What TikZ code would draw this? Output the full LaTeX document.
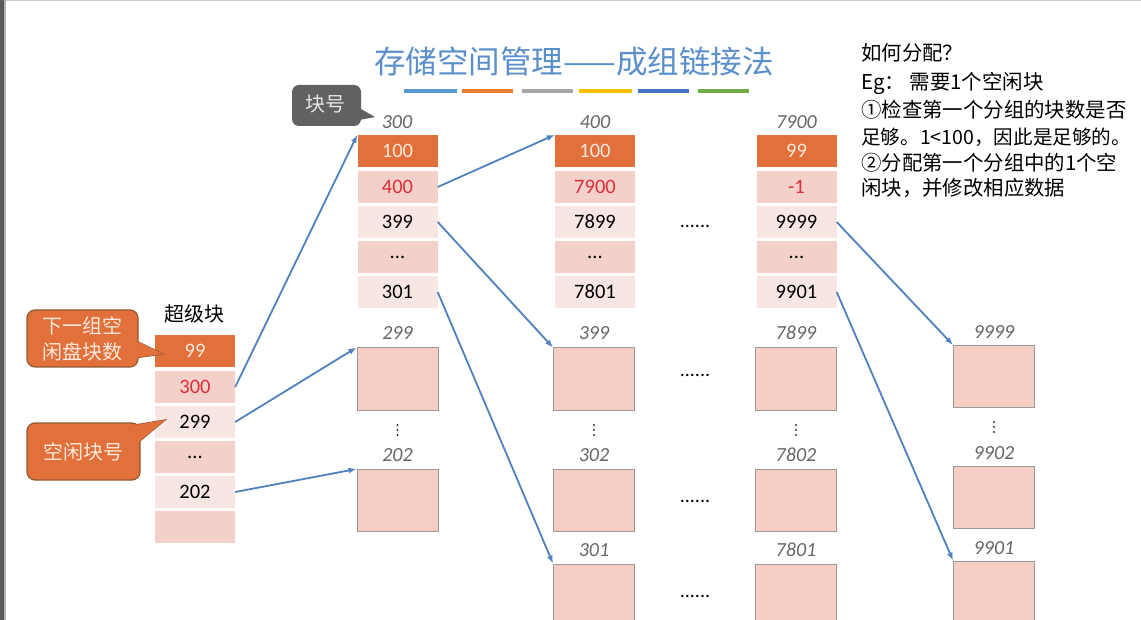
\documentclass[tikz,border=0pt]{standalone}
\usepackage{fontspec}
\setmainfont{Carlito}
\newfontfamily\cjk{Noto Sans CJK SC}
\usetikzlibrary{arrows.meta}
\definecolor{orng}{HTML}{E2703A}
\definecolor{pinkd}{HTML}{F3D0C9}
\definecolor{pinkl}{HTML}{F8E6E3}
\definecolor{blkpink}{HTML}{F6CEC4}
\definecolor{boxgray}{HTML}{9A9A9A}
\definecolor{labgray}{HTML}{666666}
\definecolor{redtxt}{HTML}{DD2E3A}
\definecolor{arrblue}{HTML}{4F81BD}
\definecolor{titleblue}{HTML}{5B8FCB}
\definecolor{cream}{HTML}{FCE8DC}
\definecolor{coborder}{HTML}{8E5A30}
\definecolor{cogray}{HTML}{616161}
\definecolor{barA}{HTML}{5B9BD5}
\definecolor{barB}{HTML}{ED7D31}
\definecolor{barC}{HTML}{A5A5A5}
\definecolor{barD}{HTML}{FFC000}
\definecolor{barE}{HTML}{4472C4}
\definecolor{barF}{HTML}{70AD47}
\begin{document}
\begin{tikzpicture}[x=1pt,y=-1pt,
  cell/.style={minimum width=80pt, minimum height=32pt, inner sep=0pt, font=\fontsize{20.5}{24}\selectfont, text=black},
  hd/.style={cell, fill=orng, text=cream},
  pd/.style={cell, fill=pinkd},
  pl/.style={cell, fill=pinkl},
  blk/.style={draw=boxgray, fill=blkpink, line width=1pt, minimum width=81pt, minimum height=62pt, inner sep=0pt},
  lab/.style={font=\fontsize{20}{24}\selectfont\itshape, text=labgray, inner sep=0pt},
  arr/.style={draw=arrblue, line width=1.8pt, -{Latex[length=8pt,width=6pt]}},
  dts/.style={font=\fontsize{20}{24}\selectfont, inner sep=0pt},
  rtxt/.style={font=\cjk\fontsize{20.4}{24}\selectfont, anchor=west, inner sep=0pt},
  cotxt/.style={font=\cjk\fontsize{20}{26}\selectfont, text=cream, align=center, inner sep=0pt},
  bar/.style={line width=4.5pt}
]
\useasboundingbox (0,0) rectangle (1141,620);
\fill[white] (0,0) rectangle (1141,620);
\fill[black!65] (0,0) rectangle (4,620);
\fill[black!30] (4,0) rectangle (6,620);
\fill[black!20] (6,0) rectangle (1141,1.5);

% title
\node[font=\cjk\fontsize{31.5}{34}\selectfont, text=titleblue] (title) at (574,62) {存储空间管理——成组链接法};
\draw[bar,barA] (404,91) -- (457,91);
\draw[bar,barB] (462,91) -- (513,91);
\draw[bar,barC] (522,91) -- (573,91);
\draw[bar,barD] (579,91) -- (632,91);
\draw[bar,barE] (638,91) -- (689,91);
\draw[bar,barF] (698,91) -- (749,91);

% right text
\node[rtxt] (t1) at (861,53) {如何分配？};
\node[rtxt] (t2) at (861,83) {Eg： 需要1个空闲块};
\node[rtxt] (t3) at (861,110) {①检查第一个分组的块数是否};
\node[rtxt, font=\cjk\fontsize{19.6}{24}\selectfont] (t4) at (861,137) {足够。1<100，因此是足够的。};
\node[rtxt] (t5) at (861,163) {②分配第一个分组中的1个空};
\node[rtxt] (t6) at (861,188) {闲块，并修改相应数据};

% superblock
\node[font=\cjk\fontsize{20}{24}\selectfont, inner sep=0pt] (sblab) at (194,314) {超级块};
\node[hd] (sb1) at (195,351) {99};
\node[pd, text=redtxt] (sb2) at (195,387) {300};
\node[pl] (sb3) at (195,422) {299};
\node[pd] (sb4) at (195,457) {...};
\node[pl] (sb5) at (195,492) {202};
\node[pd] (sb6) at (195,527) {};

% column 300
\node[lab] (ha) at (397,122) {300};
\node[hd] (a1) at (397.5,151) {100};
\node[pd, text=redtxt] (a2) at (397.5,187) {400};
\node[pl] (a3) at (397.5,222) {399};
\node[pd] (a4) at (397.5,257) {...};
\node[pl] (a5) at (397.5,292) {301};

% column 400
\node[lab] (hb) at (595,122) {400};
\node[hd] (b1) at (595,151) {100};
\node[pd, text=redtxt] (b2) at (595,187) {7900};
\node[pl] (b3) at (595,222) {7899};
\node[pd] (b4) at (595,257) {...};
\node[pl] (b5) at (595,292) {7801};

% column 7900
\node[lab] (hc) at (796.5,122) {7900};
\node[hd] (c1) at (796.5,151) {99};
\node[pd, text=redtxt] (c2) at (796.5,187) {-1};
\node[pl] (c3) at (796.5,222) {9999};
\node[pd] (c4) at (796.5,257) {...};
\node[pl] (c5) at (796.5,292) {9901};

% single blocks
\node[lab] (lA1) at (397.5,333) {299};
\node[blk] (A1) at (397.5,379) {};
\node[lab] (lA2) at (397.5,455) {202};
\node[blk] (A2) at (397.5,500.5) {};

\node[lab] (lB1) at (594,333) {399};
\node[blk] (B1) at (594,379) {};
\node[lab] (lB2) at (594,455) {302};
\node[blk] (B2) at (594,500.5) {};
\node[lab] (lB3) at (594,550) {301};
\node[blk] (B3) at (594,595) {};

\node[lab] (lC1) at (796,333) {7899};
\node[blk] (C1) at (796,379) {};
\node[lab] (lC2) at (796,455) {7802};
\node[blk] (C2) at (796,500.5) {};
\node[lab] (lC3) at (796,550) {7801};
\node[blk] (C3) at (796,595) {};

\node[lab] (lD1) at (994,332) {9999};
\node[blk] (D1) at (994,376.5) {};
\node[lab] (lD2) at (994,453) {9902};
\node[blk] (D2) at (994,497.5) {};
\node[lab] (lD3) at (994,548) {9901};
\node[blk] (D3) at (994,592) {};

% vertical dots
\foreach \xx/\yy in {397.5/430, 594/430, 796/430, 994/427}{
  \foreach \dy in {-5,0,5}{ \fill[black!80] (\xx,\yy+\dy) circle[radius=1.2]; }
}

% horizontal dots
\node[dts] (h1) at (695,226) {......};
\node[dts] (h2) at (695,375) {......};
\node[dts] (h3) at (695,501) {......};
\node[dts] (h4) at (695,596) {......};

% arrows
\draw[arr] (sb2.east) -- (a1.north west);
\draw[arr] (sb3.east) -- (A1.north west);
\draw[arr] (sb5.east) -- (A2.north west);
\draw[arr] (a2.east) -- (b1.north west);
\draw[arr] (a3.east) -- (B1.north west);
\draw[arr] (a5.east) -- (B3.north west);
\draw[arr] (c3.east) -- (D1.north west);
\draw[arr] (c5.east) -- (D3.north west);

% callout: 块号
\fill[cogray] (354,105) -- (375,117) -- (354,121) -- cycle;
\fill[cogray, rounded corners=7pt] (292,85) rectangle (361,126);
\node[font=\cjk\fontsize{20}{24}\selectfont, text=black!10, inner sep=0pt] (kh) at (325,104) {块号};

% callout: 下一组空闲盘块数
\filldraw[fill=orng, draw=coborder, line width=1.2pt] (128,337) -- (163,354) -- (128,359) -- cycle;
\filldraw[fill=orng, draw=coborder, line width=1.2pt, rounded corners=8pt] (27,310) rectangle (138,367);
\fill[orng] (128,337) -- (163,354) -- (128,359) -- cycle;
\node[cotxt] (co1) at (82,339) {下一组空\\闲盘块数};

% callout: 空闲块号
\filldraw[fill=orng, draw=coborder, line width=1.2pt] (116,428) -- (165,420) -- (134,446) -- cycle;
\filldraw[fill=orng, draw=coborder, line width=1.2pt, rounded corners=8pt] (27,423) rectangle (140,480);
\fill[orng] (116,428) -- (165,420) -- (134,446) -- cycle;
\node[cotxt] (co2) at (83,452) {空闲块号};
\end{tikzpicture}
\end{document}
